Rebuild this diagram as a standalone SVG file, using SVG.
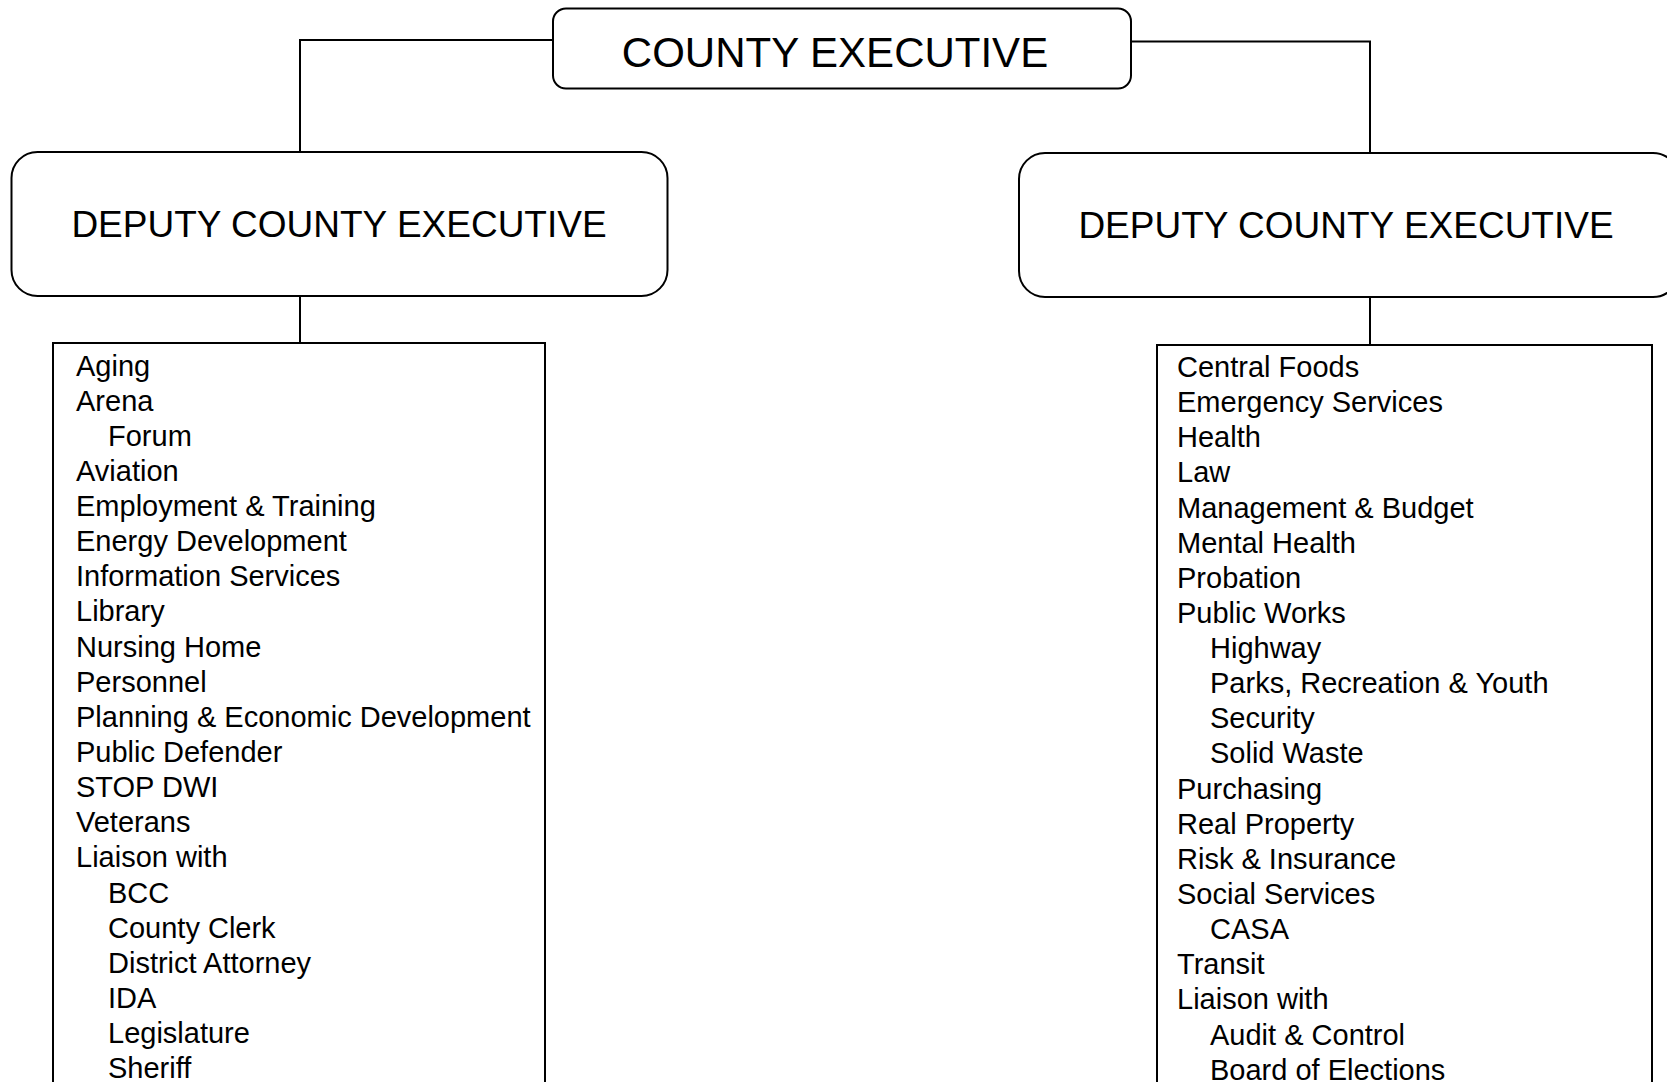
<svg xmlns="http://www.w3.org/2000/svg" width="1667" height="1082" viewBox="0 0 1667 1082">
<style>
.box{fill:#fff;stroke:#000;stroke-width:2}
.ln{fill:none;stroke:#000;stroke-width:2}
.t{font-family:"Liberation Sans",Arial,sans-serif;fill:#000}
.h{font-size:37px;text-anchor:middle}
.i{font-size:29px}
</style>
<rect width="1667" height="1082" fill="#fff"/>
<g id="connectors">
<polyline class="ln" points="553,40 300,40 300,152"/>
<polyline class="ln" points="1131,41.5 1370,41.5 1370,153"/>
<line class="ln" x1="300" y1="296" x2="300" y2="343"/>
<line class="ln" x1="1370" y1="297" x2="1370" y2="345"/>
</g>
<g id="county-executive">
<rect class="box" x="553" y="8.5" width="578" height="80" rx="13"/>
<text class="t" x="835" y="67" font-size="42" text-anchor="middle">COUNTY EXECUTIVE</text>
</g>
<g id="deputy-left">
<rect class="box" x="11.5" y="152" width="656" height="144" rx="26"/>
<text class="t h" x="339" y="237">DEPUTY COUNTY EXECUTIVE</text>
</g>
<g id="deputy-right">
<rect class="box" x="1019" y="153" width="660" height="144" rx="26"/>
<text class="t h" x="1346" y="238">DEPUTY COUNTY EXECUTIVE</text>
</g>
<g id="list-left">
<rect class="box" x="53" y="343" width="492" height="760"/>
<g class="t i">
<text x="76" y="375.5">Aging</text>
<text x="76" y="410.6">Arena</text>
<text x="108" y="445.8">Forum</text>
<text x="76" y="480.9">Aviation</text>
<text x="76" y="516">Employment &amp; Training</text>
<text x="76" y="551.2">Energy Development</text>
<text x="76" y="586.3">Information Services</text>
<text x="76" y="621.4">Library</text>
<text x="76" y="656.5">Nursing Home</text>
<text x="76" y="691.7">Personnel</text>
<text x="76" y="726.8">Planning &amp; Economic Development</text>
<text x="76" y="761.9">Public Defender</text>
<text x="76" y="797.1">STOP DWI</text>
<text x="76" y="832.2">Veterans</text>
<text x="76" y="867.3">Liaison with</text>
<text x="108" y="902.5">BCC</text>
<text x="108" y="937.6">County Clerk</text>
<text x="108" y="972.7">District Attorney</text>
<text x="108" y="1007.8">IDA</text>
<text x="108" y="1043">Legislature</text>
<text x="108" y="1078.1">Sheriff</text>
</g>
</g>
<g id="list-right">
<rect class="box" x="1157" y="345" width="495" height="760"/>
<g class="t i">
<text x="1177" y="377">Central Foods</text>
<text x="1177" y="412.1">Emergency Services</text>
<text x="1177" y="447.3">Health</text>
<text x="1177" y="482.4">Law</text>
<text x="1177" y="517.5">Management &amp; Budget</text>
<text x="1177" y="552.7">Mental Health</text>
<text x="1177" y="587.8">Probation</text>
<text x="1177" y="622.9">Public Works</text>
<text x="1210" y="658">Highway</text>
<text x="1210" y="693.2">Parks, Recreation &amp; Youth</text>
<text x="1210" y="728.3">Security</text>
<text x="1210" y="763.4">Solid Waste</text>
<text x="1177" y="798.6">Purchasing</text>
<text x="1177" y="833.7">Real Property</text>
<text x="1177" y="868.8">Risk &amp; Insurance</text>
<text x="1177" y="904">Social Services</text>
<text x="1210" y="939.1">CASA</text>
<text x="1177" y="974.2">Transit</text>
<text x="1177" y="1009.3">Liaison with</text>
<text x="1210" y="1044.5">Audit &amp; Control</text>
<text x="1210" y="1079.6">Board of Elections</text>
</g>
</g>
</svg>
